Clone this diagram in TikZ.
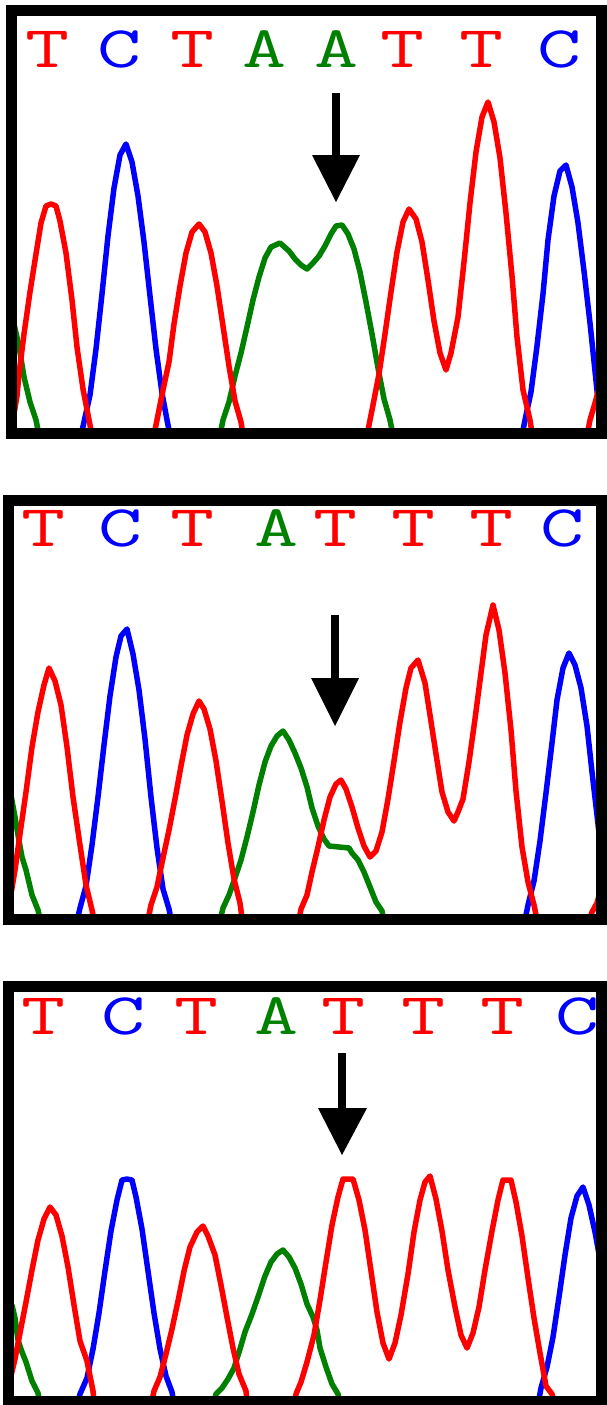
\documentclass[tikz,border=0pt]{standalone}
\usepackage{fontspec}
\usepackage{xcolor}
\usepackage{tikz}

\definecolor{baseT}{RGB}{255,0,0}
\definecolor{baseC}{RGB}{0,0,255}
\definecolor{baseA}{RGB}{0,128,0}

\tikzset{
  traceT/.style={baseT, line width=5.5pt, line join=round},
  traceC/.style={baseC, line width=5.5pt, line join=round},
  traceA/.style={baseA, line width=5.5pt, line join=round},
  call/.style={anchor=base, inner sep=0pt, xscale=1.45,
    font=\ttfamily\fontsize{59}{59}\selectfont},
  frame/.style={line width=11pt},
  shaft/.style={line width=8pt},
}

\begin{document}
\begin{tikzpicture}[x=1pt, y=-1pt]
  \useasboundingbox (0,0) rectangle (606,1405);
  \fill[white] (0,0) rectangle (606,1405);

  % ---- panel 1: TCTAATTC
  \begin{scope}
    \clip (17,18) rectangle (597,427);
    \draw[traceA] plot coordinates {(13,320) (19,346) (24,377) (30,402) (36,420) (40,440)};
    \draw[traceA] plot coordinates {(219,440) (223,420) (229,402) (235,376) (241,353) (247,327) (253,300) (259,277) (265,258) (271,247) (280,243) (289,251) (295,259) (301,265) (307,269) (313,263) (319,256) (325,246) (331,234) (336,226) (342,225) (348,234) (354,249) (360,272) (366,302) (372,334) (378,368) (384,399) (390,420) (394,440)}; % A A
    \draw[traceC] plot coordinates {(80,440) (84,422) (90,395) (96,349) (102,294) (108,236) (114,188) (120,155) (126,144) (132,162) (138,196) (144,242) (150,296) (156,349) (162,393) (167,420) (171,440)};
    \draw[traceC] plot coordinates {(521,440) (525,420) (531,392) (537,346) (543,294) (548,240) (554,196) (560,171) (566,165) (572,187) (578,223) (584,271) (590,323) (595,371) (600,420)};
    \draw[traceT] plot coordinates {(13,420) (17,396) (19,374) (24,334) (30,292) (36,254) (41,223) (46,206) (51,204) (56,206) (60,221) (66,253) (72,300) (77,347) (83,389) (90,425) (93,440)};
    \draw[traceT] plot coordinates {(153,440) (157,420) (163,390) (169,362) (174,324) (180,286) (186,253) (192,232) (199,224) (205,232) (211,253) (217,286) (223,326) (229,366) (235,401) (241,422) (244,440)};
    \draw[traceT] plot coordinates {(366,440) (368,430) (373,405) (379,374) (385,334) (391,292) (397,252) (403,222) (409,209) (416,219) (422,242) (428,280) (434,321) (440,353) (446,370) (451,353) (458,317) (464,262) (470,203) (476,152) (482,117) (488,102) (494,122) (500,158) (506,213) (512,276) (517,337) (523,390) (530,420) (533,440)}; % T T
    \draw[traceT] plot coordinates {(586,440) (590,420) (595,403) (600,385)};
  \end{scope}
  \node[call, baseT] (p1b1) at (48,67) {T};
  \node[call, baseC] (p1b2) at (120,67) {C};
  \node[call, baseT] (p1b3) at (193,67) {T};
  \node[call, baseA] (p1b4) at (265,67) {A};
  \node[call, baseA] (p1b5) at (337,67) {A};
  \node[call, baseT] (p1b6) at (403,67) {T};
  \node[call, baseT] (p1b7) at (482,67) {T};
  \node[call, baseC] (p1b8) at (560,67) {C};
  \coordinate (p1top) at (336,93);
  \coordinate (p1head) at (336,155);
  \coordinate (p1tip) at (336,202);
  \draw[shaft] (p1top) -- ([yshift=-4pt]p1head);
  \fill ([xshift=-24pt]p1head) -- ([xshift=24pt]p1head) -- (p1tip) -- cycle;
  \draw[frame] (11,11) rectangle (601,433);

  % ---- panel 2: TCTATTTC
  \begin{scope}
    \clip (13.5,506) rectangle (599,913);
    \draw[traceA] plot coordinates {(10,790) (15,817) (18,835) (22,857) (26,870) (32,895) (38,910) (41,925)};
    \draw[traceA] plot coordinates {(219,925) (223,908) (229,895) (235,878) (241,860) (247,837) (253,812) (259,785) (265,762) (271,746) (277,736) (283,731) (289,740) (295,753) (301,768) (307,787) (312,808) (318,826) (324,839) (329,846) (339,847) (349,848) (352,853) (358,860) (364,872) (370,887) (376,902) (382,911) (385,925)}; % A
    \draw[traceC] plot coordinates {(76,925) (80,908) (86,886) (92,845) (98,797) (104,745) (110,696) (116,657) (121,636) (127,629) (133,654) (139,690) (145,739) (151,797) (157,848) (163,889) (169,909) (172,925)};
    \draw[traceC] plot coordinates {(524,925) (528,905) (534,881) (540,841) (546,793) (552,743) (557,700) (563,668) (569,653) (575,665) (581,688) (587,726) (592,772) (597,815) (602,860)};
    \draw[traceT] plot coordinates {(10,900) (15,870) (20,834) (26,792) (32,747) (38,712) (44,685) (49,668) (55,681) (61,705) (67,747) (73,797) (80,845) (86,885) (92,910) (95,925)};
    \draw[traceT] plot coordinates {(147,925) (151,905) (157,887) (163,858) (169,830) (175,799) (181,766) (187,735) (193,714) (199,701) (204,709) (210,729) (216,761) (222,801) (228,843) (234,879) (240,903) (243,925)};
    \draw[traceT] plot coordinates {(298,925) (301,909) (307,895) (312,872) (318,847) (324,820) (330,797) (336,784) (341,780) (346,789) (352,807) (358,828) (364,846) (370,857) (376,851) (382,832) (388,799) (394,761) (400,722) (406,688) (411,668) (418,660) (425,683) (430,715) (436,754) (442,792) (448,812) (454,821) (458,812) (463,799) (469,762) (475,719) (481,673) (486,635) (493,605) (499,630) (505,673) (511,730) (516,791) (522,847) (528,882) (534,905) (538,925)}; % T T T
    \draw[traceT] plot coordinates {(588,925) (592,912) (597,903) (602,885)};
  \end{scope}
  \node[call, baseT] (p2b1) at (44,546) {T};
  \node[call, baseC] (p2b2) at (121,546) {C};
  \node[call, baseT] (p2b3) at (193,546) {T};
  \node[call, baseA] (p2b4) at (277,546) {A};
  \node[call, baseT] (p2b5) at (336,546) {T};
  \node[call, baseT] (p2b6) at (414,546) {T};
  \node[call, baseT] (p2b7) at (492,546) {T};
  \node[call, baseC] (p2b8) at (563,546) {C};
  \coordinate (p2top) at (335,615);
  \coordinate (p2head) at (335,678);
  \coordinate (p2tip) at (335,726);
  \draw[shaft] (p2top) -- ([yshift=-4pt]p2head);
  \fill ([xshift=-24pt]p2head) -- ([xshift=24pt]p2head) -- (p2tip) -- cycle;
  \draw[frame] (8,500) rectangle (601,919);

  % ---- panel 3: TCTATTTC
  \begin{scope}
    \clip (13.5,992) rectangle (599,1397);
    \draw[traceA] plot coordinates {(12,1305) (15,1318) (18,1340) (22,1352) (26,1362) (32,1381) (38,1393) (41,1410)};
    \draw[traceA] plot coordinates {(212,1410) (216,1394) (222,1388) (228,1379) (234,1368) (240,1349) (245,1332) (252,1314) (259,1294) (265,1276) (271,1262) (277,1254) (283,1250) (289,1257) (295,1268) (301,1284) (307,1304) (313,1317) (317,1330) (320,1348) (326,1367) (332,1384) (338,1394) (341,1410)}; % A
    \draw[traceC] plot coordinates {(76,1410) (80,1394) (87,1378) (93,1349) (99,1313) (105,1271) (111,1231) (117,1200) (122,1180) (127,1179) (132,1180) (136,1197) (142,1229) (148,1271) (154,1313) (160,1349) (166,1376) (172,1392) (175,1410)};
    \draw[traceC] plot coordinates {(537,1410) (541,1388) (547,1367) (553,1337) (559,1297) (565,1255) (571,1218) (577,1196) (583,1187) (589,1205) (595,1232) (601,1265)};
    \draw[traceT] plot coordinates {(10,1380) (15,1359) (20,1333) (26,1302) (32,1270) (38,1240) (44,1219) (50,1207) (56,1215) (62,1236) (68,1267) (74,1305) (80,1341) (87,1361) (93,1391) (95,1410)};
    \draw[traceT] plot coordinates {(150,1410) (154,1391) (160,1377) (166,1354) (172,1329) (178,1301) (184,1271) (190,1247) (197,1232) (203,1226) (208,1236) (215,1255) (221,1285) (227,1317) (233,1348) (239,1374) (246,1391) (248,1410)};
    \draw[traceT] plot coordinates {(293,1410) (296,1394) (301,1382) (307,1362) (314,1335) (320,1300) (326,1262) (332,1225) (338,1197) (343,1179) (353,1179) (359,1200) (365,1230) (371,1271) (377,1312) (383,1343) (389,1359) (395,1343) (401,1315) (408,1274) (414,1232) (420,1200) (425,1182) (430,1176) (436,1199) (442,1231) (448,1270) (455,1307) (461,1335) (467,1348) (473,1333) (479,1307) (485,1270) (492,1231) (498,1200) (503,1180) (511,1180) (516,1202) (522,1236) (528,1278) (534,1318) (540,1353) (546,1386) (552,1394) (556,1410)}; % T T T
  \end{scope}
  \node[call, baseT] (p3b1) at (44,1034) {T};
  \node[call, baseC] (p3b2) at (124,1034) {C};
  \node[call, baseT] (p3b3) at (197,1034) {T};
  \node[call, baseA] (p3b4) at (277,1034) {A};
  \node[call, baseT] (p3b5) at (344,1034) {T};
  \node[call, baseT] (p3b6) at (424,1034) {T};
  \node[call, baseT] (p3b7) at (503,1034) {T};
  \node[call, baseC] (p3b8) at (578,1034) {C};
  \coordinate (p3top) at (342,1053);
  \coordinate (p3head) at (342,1108);
  \coordinate (p3tip) at (342,1155);
  \draw[shaft] (p3top) -- ([yshift=-4pt]p3head);
  \fill ([xshift=-24pt]p3head) -- ([xshift=25pt]p3head) -- (p3tip) -- cycle;
  \draw[frame] (8,986) rectangle (601,1401);
\end{tikzpicture}
\end{document}
